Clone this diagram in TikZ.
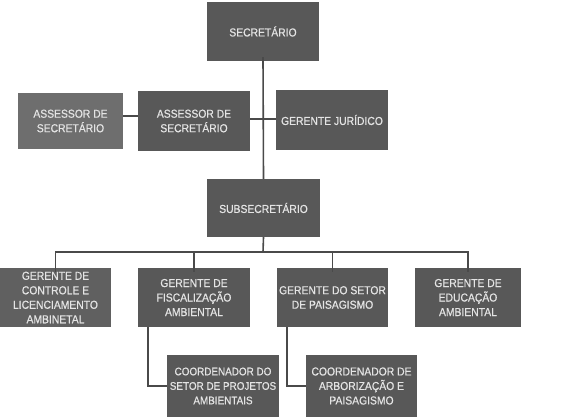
\documentclass[tikz,border=0pt]{standalone}
\usepackage{fontspec}
\setmainfont{Liberation Sans}[FakeStretch=0.9,FakeBold=0.6]
\usetikzlibrary{calc}
\definecolor{boxdark}{HTML}{585858}
\definecolor{boxlight}{HTML}{6E6E6E}
\definecolor{boxmid}{HTML}{606060}
\definecolor{txt}{HTML}{E4E4E4}
\definecolor{ln}{HTML}{4A4A4A}
\tikzset{
  box/.style={rectangle, fill=boxdark, text=txt, align=center, inner sep=0.5pt,
    font=\fontsize{11.5}{14.5}\selectfont},
  conn/.style={draw=ln, line width=1.6pt}
}
\begin{document}
\begin{tikzpicture}[x=1pt,y=-1pt]
\useasboundingbox (0,0) rectangle (573,419);
\node[box, minimum width=112pt, minimum height=59pt] (sec) at (263,31.5) {SECRETÁRIO};
\node[box, fill=boxlight, minimum width=105pt, minimum height=56pt] (ass1) at (70.5,121) {ASSESSOR DE\\SECRETÁRIO};
\node[box, minimum width=112pt, minimum height=60pt] (ass2) at (194,121) {ASSESSOR DE\\SECRETÁRIO};
\node[box, minimum width=112pt, minimum height=60pt] (jur) at (332,120) {GERENTE JURÍDICO};
\node[box, minimum width=113pt, minimum height=58pt] (sub) at (263.5,208) {SUBSECRETÁRIO};
\node[box, fill=boxmid, minimum width=111pt, minimum height=59pt] (g1) at (55.5,297.5) {GERENTE DE\\CONTROLE E\\LICENCIAMENTO\\AMBINETAL};
\node[box, minimum width=112pt, minimum height=59pt] (g2) at (194,297.5) {GERENTE DE\\FISCALIZAÇÃO\\AMBIENTAL};
\node[box, minimum width=111pt, minimum height=59pt] (g3) at (332.5,297.5) {GERENTE DO SETOR\\DE PAISAGISMO};
\node[box, minimum width=106pt, minimum height=59pt] (g4) at (468,297.5) {GERENTE DE\\EDUCAÇÃO\\AMBIENTAL};
\node[box, minimum width=112pt, minimum height=62pt, font=\fontsize{11}{14.5}\selectfont] (c1) at (223,386) {COORDENADOR DO\\SETOR DE PROJETOS\\AMBIENTAIS};
\node[box, minimum width=111pt, minimum height=62pt] (c2) at (361.5,386) {COORDENADOR DE\\ARBORIZAÇÃO E\\PAISAGISMO};
\coordinate (bus) at (263,252);
% connectors
\draw[conn] ([yshift=4pt]sec.south) -- (sub.north);
\draw[conn] (ass1.east |- 0,116) -- (ass2.west |- 0,116);
\draw[conn] (ass2.east |- 0,119) -- (jur.west |- 0,119);
\draw[conn] (sub.south) -- (bus);
\draw[conn] ([yshift=-4pt]g1.north) |- (bus) -| ([yshift=-4pt]g4.north);
\draw[conn] ([yshift=-4pt]g2.north) -- (g2.north |- bus);
\draw[conn] ([yshift=-4pt]g3.north) -- (g3.north |- bus);
\draw[conn] ([xshift=10pt]g2.south west) |- (c1.west);
\draw[conn] ([xshift=10pt]g3.south west) |- (c2.west);
\end{tikzpicture}
\end{document}
